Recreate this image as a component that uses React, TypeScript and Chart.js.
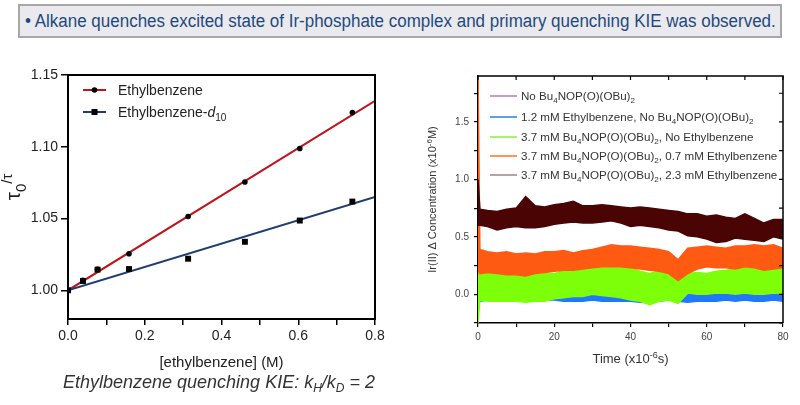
import React, { useEffect, useLayoutEffect, useRef } from 'react';
import { Chart, registerables } from 'chart.js';

Chart.register(...registerables);

const FONT = '"Liberation Sans", Arial, Helvetica, sans-serif';
Chart.defaults.font.family = FONT;

// ---------------- Left chart (Stern-Volmer) ----------------
const concentration = [0, 0.039, 0.077, 0.159, 0.313, 0.461, 0.604, 0.741];
const tauRatioH = [1.0, 1.007, 1.0146, 1.0255, 1.0514, 1.0755, 1.0988, 1.1238];
const tauRatioD = [1.0, 1.0065, 1.0144, 1.0148, 1.022, 1.0338, 1.0486, 1.0618];
const fitConc = [0, 0.8];
const fitH = [1.0, 1.132];
const fitD = [1.0, 1.065];
const leftXTicks = [0, 0.1, 0.2, 0.3, 0.4, 0.5, 0.6, 0.7, 0.8];
const leftXLabels = ['0.0', '', '0.2', '', '0.4', '', '0.6', '', '0.8'];
const leftYTicks = [1.0, 1.05, 1.1, 1.15];
const leftYLabels = ['1.00', '1.05', '1.10', '1.15'];
const leftLegend = ['Ethylbenzene', 'Ethylbenzene-'];

// ---------------- Right chart (transient Ir(II)) ----------------
const timeUs = [0, 0.5, 2.5, 5, 7.5, 10, 12.5, 15, 17.5, 20, 22.5, 25, 27.5, 30, 32.5, 35, 37.5, 40, 42.5, 45, 47.5, 50, 52.5, 55, 57.5, 60, 62.5, 65, 67.5, 70, 72.5, 75, 77.5, 80];
// band envelopes (upper / lower) of each noisy trace
const noBuHi = [0.14, 0.14, 0.12, 0.12, 0.11, 0.12, 0.12, 0.11, 0.12, 0.12, 0.13, 0.14, 0.14, 0.15, 0.14, 0.14, 0.14, 0.13, 0.12, 0.11, 0.12, 0.11, 0.1, 0.12, 0.12, 0.12, 0.13, 0.13, 0.14, 0.14, 0.14, 0.15, 0.14, 0.14];
const noBuLo = [0.0, 0.0, 0.0, 0.0, 0.0, 0.0, 0.0, 0.02, 0.01, 0.0, 0.01, 0.02, 0.02, 0.03, 0.03, 0.02, 0.02, 0.01, 0.03, 0.02, 0.03, 0.03, 0.02, 0.03, 0.03, 0.03, 0.04, 0.04, 0.04, 0.04, 0.04, 0.04, 0.04, 0.04];
const ebNoBuHi = [0.0, 0.0, -0.01, -0.01, 0.0, -0.01, 0.0, -0.01, 0.0, 0.0, 0.0, 0.01, 0.0, 0.0, 0.01, 0.01, 0.0, 0.01, 0.0, 0.0, 0.01, 0.02, 0.0, 0.01, 0.0, 0.01, 0.01, 0.02, 0.03, 0.01, 0.02, 0.05, 0.03, 0.02];
const ebNoBuLo = [-0.1, -0.06, -0.05, -0.05, -0.05, -0.05, -0.05, -0.05, -0.05, -0.05, -0.06, -0.06, -0.06, -0.05, -0.06, -0.06, -0.06, -0.06, -0.07, -0.06, -0.06, -0.05, -0.06, -0.07, -0.06, -0.06, -0.06, -0.05, -0.06, -0.05, -0.06, -0.06, -0.05, -0.06];
const noEbHi = [0.2, 0.21, 0.19, 0.18, 0.18, 0.18, 0.17, 0.17, 0.18, 0.18, 0.21, 0.23, 0.23, 0.24, 0.23, 0.23, 0.24, 0.23, 0.2, 0.18, 0.2, 0.18, 0.15, 0.18, 0.19, 0.18, 0.2, 0.21, 0.22, 0.23, 0.22, 0.24, 0.22, 0.23];
const noEbLo = [-0.25, -0.05, -0.06, -0.06, -0.06, -0.06, -0.07, -0.06, -0.06, -0.04, -0.03, -0.02, -0.02, 0.0, -0.01, -0.02, -0.03, -0.05, -0.06, -0.09, -0.06, -0.05, -0.08, 0.01, 0.0, 0.0, 0.01, 0.01, 0.0, 0.01, 0.0, 0.0, 0.01, 0.01];
const eb07Hi = [1.9, 0.39, 0.37, 0.36, 0.37, 0.35, 0.36, 0.35, 0.37, 0.37, 0.38, 0.36, 0.38, 0.39, 0.41, 0.43, 0.42, 0.42, 0.41, 0.4, 0.39, 0.37, 0.3, 0.4, 0.41, 0.42, 0.41, 0.4, 0.42, 0.42, 0.43, 0.42, 0.43, 0.4];
const eb07Lo = [0.2, 0.18, 0.19, 0.18, 0.17, 0.17, 0.16, 0.18, 0.19, 0.2, 0.21, 0.21, 0.22, 0.23, 0.24, 0.24, 0.24, 0.23, 0.22, 0.21, 0.2, 0.18, 0.12, 0.18, 0.22, 0.24, 0.23, 0.23, 0.22, 0.24, 0.23, 0.21, 0.22, 0.23];
const eb23Hi = [1.0, 0.74, 0.73, 0.72, 0.74, 0.75, 0.85, 0.77, 0.76, 0.78, 0.79, 0.81, 0.77, 0.77, 0.78, 0.77, 0.76, 0.75, 0.76, 0.75, 0.74, 0.73, 0.72, 0.7, 0.7, 0.68, 0.69, 0.67, 0.66, 0.7, 0.66, 0.62, 0.65, 0.65];
const eb23Lo = [0.6, 0.6, 0.59, 0.56, 0.58, 0.59, 0.58, 0.58, 0.59, 0.61, 0.62, 0.63, 0.62, 0.62, 0.63, 0.64, 0.62, 0.59, 0.6, 0.59, 0.58, 0.56, 0.55, 0.51, 0.5, 0.48, 0.45, 0.46, 0.49, 0.48, 0.47, 0.46, 0.5, 0.48];
const rightXTicks = [0, 10, 20, 30, 40, 50, 60, 70, 80];
const rightXLabels = ['0', '', '20', '', '40', '', '60', '', '80'];
const rightYTicks = [-0.25, 0, 0.25, 0.5, 0.75, 1.0, 1.25, 1.5, 1.75];
const rightYLabels = ['', '0.0', '', '0.5', '', '1.0', '', '1.5', ''];

type Seg = [string, 'n' | 'sub' | 'sup' | 'i'];
const rightLegend: Seg[][] = [
  [['No Bu', 'n'], ['4', 'sub'], ['NOP(O)(OBu)', 'n'], ['2', 'sub']],
  [['1.2 mM Ethylbenzene, No Bu', 'n'], ['4', 'sub'], ['NOP(O)(OBu)', 'n'], ['2', 'sub']],
  [['3.7 mM Bu', 'n'], ['4', 'sub'], ['NOP(O)(OBu)', 'n'], ['2', 'sub'], [', No Ethylbenzene', 'n']],
  [['3.7 mM Bu', 'n'], ['4', 'sub'], ['NOP(O)(OBu)', 'n'], ['2', 'sub'], [', 0.7 mM Ethylbenzene', 'n']],
  [['3.7 mM Bu', 'n'], ['4', 'sub'], ['NOP(O)(OBu)', 'n'], ['2', 'sub'], [', 2.3 mM Ethylbenzene', 'n']],
];
const seriesColors = ['#7b2d9a', '#1f78ff', '#7dff0a', '#ff5a12', '#4a0404'];
const legendSwatch = ['#b07cc8', '#2a7cf0', '#86f23a', '#ff6e2a', '#a88080'];

const RED = '#c0141c';
const NAVY = '#1f3d72';
const pts = (xs: number[], ys: number[]) => xs.map((x, i) => ({ x, y: ys[i] }));

function drawRich(ctx: CanvasRenderingContext2D, segs: Seg[], x: number, y: number, size: number, color: string, align: 'left' | 'center', italicAll = false) {
  const fontFor = (m: string) => `${m === 'i' || italicAll ? 'italic ' : ''}${m === 'sub' || m === 'sup' ? Math.round(size * 0.72) : size}px ${FONT}`;
  let w = 0;
  for (const [t, m] of segs) { ctx.font = fontFor(m); w += ctx.measureText(t).width; }
  let cx = align === 'center' ? x - w / 2 : x;
  ctx.fillStyle = color;
  ctx.textAlign = 'left';
  ctx.textBaseline = 'alphabetic';
  for (const [t, m] of segs) {
    ctx.font = fontFor(m);
    const dy = m === 'sub' ? size * 0.3 : m === 'sup' ? -size * 0.38 : 0;
    ctx.fillText(t, cx, y + dy);
    cx += ctx.measureText(t).width;
  }
}

const leftDecor = {
  id: 'leftDecor',
  afterDraw(chart: any) {
    const { ctx, chartArea: a, scales } = chart;
    ctx.save();
    ctx.strokeStyle = '#000';
    ctx.lineWidth = 2;
    ctx.beginPath();
    ctx.moveTo(a.left - 1, a.top); ctx.lineTo(a.right, a.top); ctx.lineTo(a.right, a.bottom + 1);
    ctx.stroke();
    // legend
    const rows = [50, 72];
    const colors = [RED, NAVY];
    rows.forEach((y, i) => {
      ctx.strokeStyle = colors[i]; ctx.lineWidth = 2;
      ctx.beginPath(); ctx.moveTo(83, y); ctx.lineTo(106, y); ctx.stroke();
      ctx.fillStyle = '#000';
      if (i === 0) { ctx.beginPath(); ctx.arc(94.5, y, 2.8, 0, Math.PI * 2); ctx.fill(); }
      else ctx.fillRect(91.5, y - 3, 6, 6);
    });
    drawRich(ctx, [[leftLegend[0], 'n']], 118, rows[0] + 5, 14, '#222', 'left');
    drawRich(ctx, [[leftLegend[1], 'n'], ['d', 'i'], ['10', 'sub']], 118, rows[1] + 5, 14, '#222', 'left');
    // axis titles
    const xs = scales.x;
    drawRich(ctx, [['[ethylbenzene] (M)', 'n']], (xs.left + xs.right) / 2, 327, 15, '#222', 'center');
    ctx.save();
    ctx.translate(20, (a.top + a.bottom) / 2 - 10);
    ctx.rotate(-Math.PI / 2);
    drawRich(ctx, [['τ', 'n'], ['0', 'sub'], ['/τ', 'sup']], 0, 0, 21, '#222', 'center');
    ctx.restore();
    ctx.restore();
  },
};

const rightDecor = {
  id: 'rightDecor',
  afterDraw(chart: any) {
    const { ctx, chartArea: a, scales } = chart;
    const xs = scales.x, ys = scales.y;
    ctx.save();
    ctx.strokeStyle = '#000';
    ctx.lineWidth = 1.5;
    ctx.beginPath();
    ctx.moveTo(a.left, a.top); ctx.lineTo(a.right, a.top); ctx.lineTo(a.right, a.bottom);
    ctx.stroke();
    ctx.lineWidth = 1.2;
    ctx.beginPath();
    rightXTicks.forEach((v) => { const x = xs.getPixelForValue(v); ctx.moveTo(x, a.top); ctx.lineTo(x, a.top + 4); });
    rightYTicks.forEach((v) => { const y = ys.getPixelForValue(v); ctx.moveTo(a.right, y); ctx.lineTo(a.right - 4, y); });
    ctx.stroke();
    // legend
    const rows = [46, 67, 87, 106, 125];
    rows.forEach((y, i) => {
      ctx.strokeStyle = legendSwatch[i]; ctx.lineWidth = 1.5;
      ctx.beginPath(); ctx.moveTo(90, y); ctx.lineTo(117, y); ctx.stroke();
      drawRich(ctx, rightLegend[i], 121, y + 4, 11.6, '#333', 'left');
    });
    // axis titles
    drawRich(ctx, [['Time (x10', 'n'], ['-6', 'sup'], ['s)', 'n']], (xs.left + xs.right) / 2, 313, 13, '#333', 'center');
    ctx.save();
    ctx.translate(36, (a.top + a.bottom) / 2);
    ctx.rotate(-Math.PI / 2);
    drawRich(ctx, [['Ir(II) Δ Concentration (x10', 'n'], ['-6', 'sup'], ['M)', 'n']], 0, 0, 11, '#333', 'center');
    ctx.restore();
    ctx.restore();
  },
};

function band(label: string, hi: number[], lo: number[], color: string, order: number) {
  return [
    { label: label + ' low', data: pts(timeUs, lo), borderColor: color, backgroundColor: color, borderWidth: 1.5, pointRadius: 0, fill: false, order, tension: 0 },
    { label: label + ' high', data: pts(timeUs, hi), borderColor: color, backgroundColor: color, borderWidth: 1.5, pointRadius: 0, fill: '-1', order, tension: 0 },
  ];
}

export default function App() {
  const leftRef = useRef<HTMLCanvasElement>(null);
  const rightRef = useRef<HTMLCanvasElement>(null);
  const titleRef = useRef<HTMLSpanElement>(null);

  useLayoutEffect(() => {
    const s = titleRef.current;
    if (!s) return;
    const w = s.offsetWidth;
    s.style.transform = `scaleX(${751 / w})`;
  }, []);

  useEffect(() => {
    const left = new Chart(leftRef.current!, {
      type: 'scatter',
      data: {
        datasets: [
          { label: 'Ethylbenzene fit', data: pts(fitConc, fitH), showLine: true, borderColor: RED, borderWidth: 2, pointRadius: 0, order: 3 },
          { label: 'Ethylbenzene-d10 fit', data: pts(fitConc, fitD), showLine: true, borderColor: NAVY, borderWidth: 2, pointRadius: 0, order: 2 },
          { label: 'Ethylbenzene', data: pts(concentration, tauRatioH), showLine: false, pointStyle: 'circle', pointRadius: 2.8, backgroundColor: '#000', borderColor: '#000', borderWidth: 0, order: 1 },
          { label: 'Ethylbenzene-d10', data: pts(concentration, tauRatioD), showLine: false, pointStyle: 'rect', pointRadius: 4.2, backgroundColor: '#000', borderColor: '#000', borderWidth: 0, order: 0 },
        ] as any,
      },
      options: {
        responsive: false,
        animation: false,
        layout: { padding: { top: 35, right: 25, left: 0, bottom: 0 } },
        plugins: { legend: { display: false }, tooltip: { enabled: false } },
        scales: {
          x: {
            type: 'linear', min: 0, max: 0.8,
            afterBuildTicks: (s: any) => { s.ticks = leftXTicks.map((v) => ({ value: v })); },
            afterFit: (s: any) => { s.height = 66; },
            ticks: { callback: (_v: any, i: number) => leftXLabels[i], font: { size: 14 }, color: '#222', padding: 3, maxRotation: 0, autoSkip: false },
            grid: { drawOnChartArea: false, drawTicks: true, tickLength: 6, color: '#000', lineWidth: 1.5 },
            border: { display: true, color: '#000', width: 2 },
          },
          y: {
            type: 'linear', min: 0.98, max: 1.15,
            afterBuildTicks: (s: any) => { s.ticks = leftYTicks.map((v) => ({ value: v })); },
            afterFit: (s: any) => { s.width = 68; },
            ticks: { callback: (_v: any, i: number) => leftYLabels[i], font: { size: 14 }, color: '#222', padding: 3, autoSkip: false },
            grid: { drawOnChartArea: false, drawTicks: true, tickLength: 7, color: '#000', lineWidth: 1.5 },
            border: { display: true, color: '#000', width: 2 },
          },
        },
      } as any,
      plugins: [leftDecor],
    });

    const right = new Chart(rightRef.current!, {
      type: 'line',
      data: {
        datasets: [
          ...band('No Bu4NOP(O)(OBu)2', noBuHi, noBuLo, seriesColors[0], 3),
          ...band('1.2 mM Ethylbenzene, No Bu4NOP(O)(OBu)2', ebNoBuHi, ebNoBuLo, seriesColors[1], 4),
          ...band('3.7 mM Bu4NOP(O)(OBu)2, No Ethylbenzene', noEbHi, noEbLo, seriesColors[2], 2),
          ...band('3.7 mM Bu4NOP(O)(OBu)2, 0.7 mM Ethylbenzene', eb07Hi, eb07Lo, seriesColors[3], 1),
          ...band('3.7 mM Bu4NOP(O)(OBu)2, 2.3 mM Ethylbenzene', eb23Hi, eb23Lo, seriesColors[4], 0),
        ] as any,
      },
      options: {
        responsive: false,
        animation: false,
        layout: { padding: { top: 26, right: 17, left: 0, bottom: 0 } },
        plugins: { legend: { display: false }, tooltip: { enabled: false } },
        scales: {
          x: {
            type: 'linear', min: 0, max: 80,
            afterBuildTicks: (s: any) => { s.ticks = rightXTicks.map((v) => ({ value: v })); },
            afterFit: (s: any) => { s.height = 72; },
            ticks: { callback: (_v: any, i: number) => rightXLabels[i], font: { size: 10 }, color: '#444', padding: 4, maxRotation: 0, autoSkip: false },
            grid: { drawOnChartArea: false, drawTicks: true, tickLength: 4, color: '#000', lineWidth: 1.2 },
            border: { display: true, color: '#000', width: 1.5 },
          },
          y: {
            type: 'linear', min: -0.25, max: 1.9,
            afterBuildTicks: (s: any) => { s.ticks = rightYTicks.map((v) => ({ value: v })); },
            afterFit: (s: any) => { s.width = 78; },
            ticks: { callback: (_v: any, i: number) => rightYLabels[i], font: { size: 10 }, color: '#444', padding: 5, autoSkip: false },
            grid: { drawOnChartArea: false, drawTicks: true, tickLength: 4, color: '#000', lineWidth: 1.2 },
            border: { display: true, color: '#000', width: 1.5 },
          },
        },
      } as any,
      plugins: [rightDecor],
    });

    return () => { left.destroy(); right.destroy(); };
  }, []);

  return (
    <div style={{ position: 'absolute', left: 0, top: 0, width: 800, height: 405, background: '#fff', overflow: 'hidden' }}>
      <div style={{ position: 'absolute', left: 18, top: 4, width: 764, height: 34, boxSizing: 'border-box', border: '2px solid #a8a8a8', background: '#e9e9ee', whiteSpace: 'nowrap' }}>
        <span ref={titleRef} style={{ display: 'inline-block', transformOrigin: '0 50%', font: `18px ${FONT}`, color: '#1f497d', lineHeight: '30px', marginLeft: 5 }}>
          • Alkane quenches excited state of Ir-phosphate complex and primary quenching KIE was observed.
        </span>
      </div>
      <canvas ref={leftRef} width={400} height={345} style={{ position: 'absolute', left: 0, top: 40 }} />
      <canvas ref={rightRef} width={400} height={345} style={{ position: 'absolute', left: 400, top: 50 }} />
      <div style={{ position: 'absolute', left: 0, top: 371, width: 438, textAlign: 'center', font: `italic 18px ${FONT}`, color: '#333', lineHeight: '22px', whiteSpace: 'nowrap' }}>
        Ethylbenzene quenching KIE: k<span style={{ fontSize: 12, position: 'relative', top: 4 }}>H</span>/k<span style={{ fontSize: 12, position: 'relative', top: 4 }}>D</span> = 2
      </div>
    </div>
  );
}
